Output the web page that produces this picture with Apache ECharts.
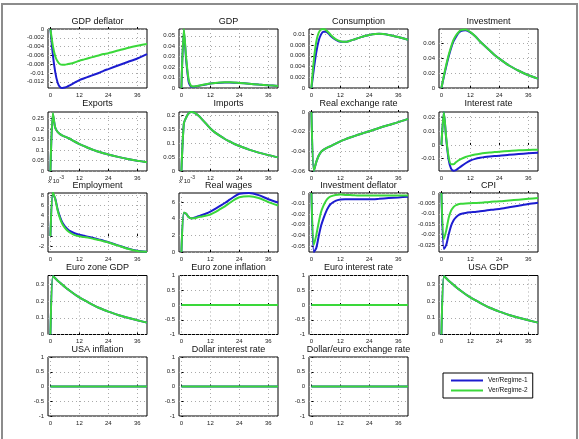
<!DOCTYPE html>
<html>
<head>
<meta charset="utf-8">
<script src="https://cdn.jsdelivr.net/npm/echarts@6/dist/echarts.min.js"></script>
<style>
html, body { margin: 0; padding: 0; background: #fff; }
#irf { width: 579px; height: 439px; }
</style>
</head>
<body>
<div id="irf"></div>
<script>
// quarters after the shock
var xs = [0, 1, 2, 3, 4, 5, 6, 7, 8, 10, 12, 14, 16, 18, 20, 22, 24, 28, 32, 36, 40];
var xTicks = [0, 12, 24, 36];
var regimes = ['Ver/Regime-1', 'Ver/Regime-2'];

// responses, regime 1 (blue) and regime 2 (green)
var gdpDefl1 = [0, -0.0058, -0.0098, -0.0122, -0.0132, -0.0134, -0.0133, -0.0131, -0.0128, -0.0122, -0.0116, -0.0112, -0.0108, -0.0104, -0.0100, -0.0095, -0.0091, -0.0083, -0.0075, -0.0067, -0.0057];
var gdpDefl2 = [0, -0.0038, -0.0062, -0.0074, -0.0080, -0.0081, -0.0081, -0.0080, -0.0079, -0.0076, -0.0072, -0.0069, -0.0066, -0.0063, -0.0060, -0.0057, -0.0055, -0.0049, -0.0043, -0.0038, -0.0034];
var gdp1 = [0, 0.055, 0.026, 0.006, 0.0012, 0.0011, 0.0015, 0.0020, 0.0025, 0.0034, 0.0043, 0.0048, 0.0051, 0.0053, 0.0053, 0.0051, 0.0048, 0.0041, 0.0033, 0.0026, 0.0020];
var gdp2 = [0, 0.0565, 0.028, 0.008, 0.0020, 0.0015, 0.0018, 0.0022, 0.0027, 0.0036, 0.0044, 0.0049, 0.0052, 0.0054, 0.0054, 0.0052, 0.0049, 0.0041, 0.0033, 0.0026, 0.0020];
var cons1 = [0, 0.0035, 0.0066, 0.0088, 0.0100, 0.0105, 0.0105, 0.0102, 0.0097, 0.0090, 0.0086, 0.0086, 0.0088, 0.0091, 0.0094, 0.0097, 0.0099, 0.0101, 0.0099, 0.0095, 0.0090];
var cons2 = [0, 0.0052, 0.0086, 0.0103, 0.0109, 0.0110, 0.0108, 0.0104, 0.0099, 0.0091, 0.0087, 0.0086, 0.0088, 0.0091, 0.0094, 0.0097, 0.0099, 0.0101, 0.0099, 0.0095, 0.0090];
var inv1 = [0, 0.015, 0.029, 0.042, 0.053, 0.062, 0.068, 0.073, 0.076, 0.077, 0.0742, 0.069, 0.062, 0.056, 0.050, 0.044, 0.039, 0.030, 0.023, 0.017, 0.0125];
var inv2 = [0, 0.016, 0.031, 0.044, 0.055, 0.064, 0.070, 0.074, 0.077, 0.078, 0.0745, 0.069, 0.062, 0.056, 0.050, 0.044, 0.039, 0.030, 0.023, 0.017, 0.0125];
var exp1 = [0, 0.27, 0.205, 0.185, 0.175, 0.168, 0.163, 0.158, 0.153, 0.140, 0.128, 0.118, 0.108, 0.099, 0.091, 0.084, 0.078, 0.067, 0.057, 0.049, 0.042];
var exp2 = [0, 0.275, 0.205, 0.185, 0.175, 0.168, 0.163, 0.158, 0.153, 0.140, 0.128, 0.118, 0.108, 0.099, 0.091, 0.084, 0.078, 0.067, 0.057, 0.049, 0.042];
var imp1 = [0, 0.17, 0.193, 0.207, 0.212, 0.211, 0.206, 0.199, 0.191, 0.172, 0.153, 0.138, 0.126, 0.115, 0.106, 0.097, 0.090, 0.077, 0.066, 0.057, 0.049];
var imp2 = [0, 0.17, 0.193, 0.207, 0.212, 0.211, 0.206, 0.199, 0.191, 0.172, 0.153, 0.138, 0.126, 0.115, 0.106, 0.097, 0.090, 0.077, 0.066, 0.057, 0.049];
var rer1 = [0, -0.060, -0.051, -0.0445, -0.0405, -0.0385, -0.0370, -0.0358, -0.0347, -0.0322, -0.0298, -0.0278, -0.0260, -0.0243, -0.0226, -0.0210, -0.0195, -0.0162, -0.0132, -0.0103, -0.0070];
var rer2 = [0, -0.060, -0.051, -0.0445, -0.0405, -0.0385, -0.0370, -0.0358, -0.0347, -0.0322, -0.0298, -0.0278, -0.0260, -0.0243, -0.0226, -0.0210, -0.0195, -0.0162, -0.0132, -0.0103, -0.0070];
var rate1 = [0, 0.024, 0.004, -0.011, -0.0175, -0.0190, -0.0185, -0.0173, -0.0160, -0.0135, -0.0115, -0.0103, -0.0095, -0.0089, -0.0085, -0.0082, -0.0080, -0.0073, -0.0067, -0.0062, -0.0058];
var rate2 = [0, 0.024, 0.005, -0.009, -0.0142, -0.0142, -0.0128, -0.0115, -0.0104, -0.0089, -0.0079, -0.0071, -0.0065, -0.0060, -0.0056, -0.0053, -0.0050, -0.0045, -0.0040, -0.0037, -0.0035];
var empl1 = [0, 8.3, 7.3, 5.2, 3.7, 2.6, 1.9, 1.4, 1.0, 0.55, 0.25, 0.05, -0.15, -0.4, -0.65, -0.9, -1.2, -1.8, -2.4, -2.85, -3.05];
var empl2 = [0, 8.5, 7.2, 5.0, 3.4, 2.3, 1.6, 1.1, 0.7, 0.2, -0.05, -0.2, -0.35, -0.55, -0.75, -1.0, -1.25, -1.85, -2.45, -2.9, -3.05];
var wage1 = [0, 4.7, 4.6, 4.2, 4.05, 4.1, 4.2, 4.3, 4.4, 4.6, 4.85, 5.2, 5.55, 5.9, 6.3, 6.7, 7.0, 7.1, 6.85, 6.35, 5.95];
var wage2 = [0, 4.75, 4.6, 4.2, 4.05, 4.05, 4.1, 4.2, 4.25, 4.35, 4.5, 4.8, 5.15, 5.5, 5.9, 6.3, 6.6, 6.7, 6.5, 6.0, 5.6];
var invDefl1 = [0, -0.0557, -0.052, -0.041, -0.031, -0.024, -0.018, -0.0135, -0.0105, -0.0075, -0.0062, -0.0058, -0.0058, -0.0058, -0.0059, -0.0060, -0.0060, -0.0055, -0.0048, -0.0042, -0.0035];
var invDefl2 = [0, -0.049, -0.040, -0.028, -0.018, -0.012, -0.0075, -0.0048, -0.0032, -0.0018, -0.0015, -0.0018, -0.0020, -0.0022, -0.0023, -0.0024, -0.0024, -0.0024, -0.0024, -0.0024, -0.0023];
var cpi1 = [0, -0.027, -0.025, -0.020, -0.0158, -0.0132, -0.0117, -0.0107, -0.0101, -0.0096, -0.0093, -0.0091, -0.0088, -0.0085, -0.0082, -0.0079, -0.0077, -0.0069, -0.0061, -0.0053, -0.0047];
var cpi2 = [0, -0.0223, -0.018, -0.012, -0.0085, -0.0068, -0.0059, -0.0054, -0.0052, -0.0050, -0.0049, -0.0048, -0.0047, -0.0045, -0.0043, -0.0041, -0.0040, -0.0036, -0.0032, -0.0028, -0.0024];
var foreignGdp = [0, 0.35, 0.336, 0.322, 0.309, 0.297, 0.285, 0.273, 0.262, 0.241, 0.222, 0.205, 0.189, 0.174, 0.160, 0.148, 0.137, 0.117, 0.100, 0.085, 0.071];
var flat = [0, 0, 0, 0, 0, 0, 0, 0, 0, 0, 0, 0, 0, 0, 0, 0, 0, 0, 0, 0, 0];

var panels = [
  { title: 'GDP deflator', a: gdpDefl1, b: gdpDefl2, min: -0.0134, max: 0, ticks: [-0.012, -0.01, -0.008, -0.006, -0.004, -0.002, 0] },
  { title: 'GDP', a: gdp1, b: gdp2, min: 0, max: 0.0565, ticks: [0, 0.01, 0.02, 0.03, 0.04, 0.05] },
  { title: 'Consumption', a: cons1, b: cons2, min: 0, max: 0.0110, ticks: [0, 0.002, 0.004, 0.006, 0.008, 0.01] },
  { title: 'Investment', a: inv1, b: inv2, min: 0, max: 0.0786, ticks: [0, 0.02, 0.04, 0.06] },
  { title: 'Exports', a: exp1, b: exp2, min: 0, max: 0.28, ticks: [0, 0.05, 0.1, 0.15, 0.2, 0.25] },
  { title: 'Imports', a: imp1, b: imp2, min: 0, max: 0.212, ticks: [0, 0.05, 0.1, 0.15, 0.2] },
  { title: 'Real exchange rate', a: rer1, b: rer2, min: -0.06, max: 0, ticks: [-0.06, -0.04, -0.02, 0] },
  { title: 'Interest rate', a: rate1, b: rate2, min: -0.0192, max: 0.0242, ticks: [-0.01, 0, 0.01, 0.02] },
  { title: 'Employment', a: empl1, b: empl2, min: -3.1, max: 8.4, ticks: [-2, 0, 2, 4, 6, 8], exp: true },
  { title: 'Real wages', a: wage1, b: wage2, min: 0, max: 7.1, ticks: [0, 2, 4, 6], exp: true },
  { title: 'Investment deflator', a: invDefl1, b: invDefl2, min: -0.0557, max: 0, ticks: [-0.05, -0.04, -0.03, -0.02, -0.01, 0] },
  { title: 'CPI', a: cpi1, b: cpi2, min: -0.0284, max: 0, ticks: [-0.025, -0.02, -0.015, -0.01, -0.005, 0] },
  { title: 'Euro zone GDP', a: foreignGdp, b: foreignGdp, min: 0, max: 0.353, ticks: [0, 0.1, 0.2, 0.3] },
  { title: 'Euro zone inflation', a: flat, b: flat, min: -1, max: 1, ticks: [-1, -0.5, 0, 0.5, 1] },
  { title: 'Euro interest rate', a: flat, b: flat, min: -1, max: 1, ticks: [-1, -0.5, 0, 0.5, 1] },
  { title: 'USA GDP', a: foreignGdp, b: foreignGdp, min: 0, max: 0.353, ticks: [0, 0.1, 0.2, 0.3] },
  { title: 'USA inflation', a: flat, b: flat, min: -1, max: 1, ticks: [-1, -0.5, 0, 0.5, 1] },
  { title: 'Dollar interest rate', a: flat, b: flat, min: -1, max: 1, ticks: [-1, -0.5, 0, 0.5, 1] },
  { title: 'Dollar/euro exchange rate', a: flat, b: flat, min: -1, max: 1, ticks: [-1, -0.5, 0, 0.5, 1] }
];

var colLeft = [48, 179, 309, 439];
var rowTop = [29, 112, 193, 275.5, 357];
var titleY = [22.5, 104.3, 186, 268.3, 350];
var boxW = 99, boxH = 59;
var font = 'Liberation Sans, Arial, Helvetica, sans-serif';
var blue = '#1c1cd0', green = '#3ad83a';

function fmt(v) { return String(parseFloat(v.toFixed(6))); }
function pairs(arr) { return xs.map(function (x, i) { return [x, arr[i]]; }); }

var grids = [], xAxes = [], yAxes = [], titles = [], series = [], graphics = [];

panels.forEach(function (p, i) {
  var c = i % 4, r = Math.floor(i / 4);
  var left = colLeft[c], top = rowTop[r];
  grids.push({ left: left, top: top, width: boxW, height: boxH, show: true, borderColor: '#000', borderWidth: 1, backgroundColor: '#fff' });
  xAxes.push({
    type: 'value', gridIndex: i, min: -1, max: 40,
    axisLine: { show: false },
    axisTick: { inside: true, length: 2, customValues: xTicks, lineStyle: { color: '#000' } },
    axisLabel: { customValues: xTicks, fontSize: 6, color: '#222', margin: 4, fontFamily: font },
    splitLine: { show: true, lineStyle: { color: '#aaa', type: [1, 3], width: 1 } }
  });
  yAxes.push({
    type: 'value', gridIndex: i, min: p.min, max: p.max,
    axisLine: { show: false },
    axisTick: { inside: true, length: 2, customValues: p.ticks, lineStyle: { color: '#000' } },
    axisLabel: { customValues: p.ticks, fontSize: 6, color: '#222', margin: 4, fontFamily: font, formatter: fmt },
    splitLine: { show: true, lineStyle: { color: '#aaa', type: [1, 3], width: 1 } }
  });
  titles.push({
    text: p.title, left: left + boxW / 2, top: titleY[r] - 5, textAlign: 'center', padding: 0,
    textStyle: { fontSize: 9, fontWeight: 'normal', color: '#111', fontFamily: font }
  });
  [p.a, p.b].forEach(function (arr, k) {
    series.push({
      name: regimes[k], type: 'line', xAxisIndex: i, yAxisIndex: i,
      data: pairs(arr), symbol: 'none', smooth: 0.25,
      lineStyle: { width: 2, color: k === 0 ? blue : green },
      itemStyle: { color: k === 0 ? blue : green }
    });
  });
  if (p.exp) {
    graphics.push({ type: 'text', left: left, top: top - 15, style: { text: 'x 10', fontSize: 6, fill: '#222', fontFamily: font } });
    graphics.push({ type: 'text', left: left + 11.5, top: top - 18, style: { text: '-3', fontSize: 5, fill: '#222', fontFamily: font } });
  }
});

// outer figure frame
graphics.push({ type: 'rect', shape: { x: 2, y: 4, width: 575, height: 445 }, style: { fill: null, stroke: '#8c8c8c', lineWidth: 2 }, silent: true, z: -1 });

var chart = echarts.init(document.getElementById('irf'));
chart.setOption({
  animation: false,
  backgroundColor: '#fff',
  title: titles,
  grid: grids,
  xAxis: xAxes,
  yAxis: yAxes,
  legend: {
    data: regimes, orient: 'vertical', left: 443, top: 373,
    icon: 'rect', padding: [4, 5, 4, 8], itemGap: 3, itemWidth: 32, itemHeight: 2,
    borderColor: '#000', borderWidth: 1, backgroundColor: '#fff',
    textStyle: { fontSize: 6.5, color: '#111', fontFamily: font }
  },
  graphic: graphics,
  series: series
});
</script>
</body>
</html>
